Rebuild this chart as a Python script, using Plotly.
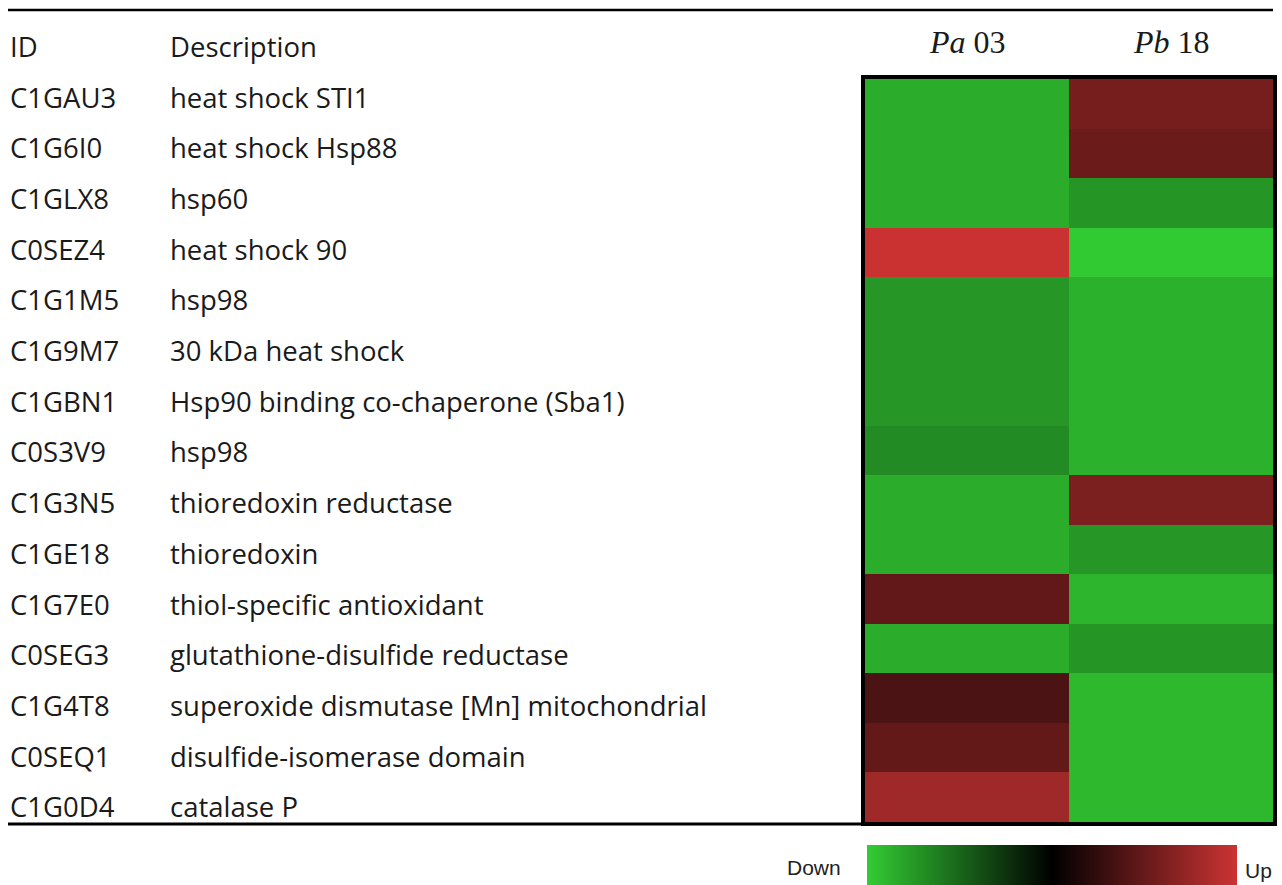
import plotly.graph_objects as go

W, H = 1282, 885

# Table content
ids = ["C1GAU3", "C1G6I0", "C1GLX8", "C0SEZ4", "C1G1M5", "C1G9M7", "C1GBN1",
       "C0S3V9", "C1G3N5", "C1GE18", "C1G7E0", "C0SEG3", "C1G4T8", "C0SEQ1", "C1G0D4"]
descriptions = ["heat shock STI1", "heat shock Hsp88", "hsp60", "heat shock 90", "hsp98",
                "30 kDa heat shock", "Hsp90 binding co-chaperone (Sba1)", "hsp98",
                "thioredoxin reductase", "thioredoxin", "thiol-specific antioxidant",
                "glutathione-disulfide reductase",
                "superoxide dismutase [Mn] mitochondrial", "disulfide-isomerase domain",
                "catalase P"]
strains = ["<i>Pa</i> 03", "<i>Pb</i> 18"]

# Relative expression (-1 = down, +1 = up)
pa03 = [-0.85, -0.85, -0.85, 0.99, -0.74, -0.74, -0.74, -0.68, -0.85, -0.85,
        0.48, -0.85, 0.37, 0.49, 0.78]
pb18 = [0.58, 0.53, -0.73, -0.99, -0.87, -0.87, -0.87, -0.87, 0.61, -0.74,
        -0.89, -0.73, -0.9, -0.9, -0.9]

# Colour-bar tick values
cbar_ticks = [-0.86, -0.42, 0.02, 0.46, 0.9]


def px(x):
    return x / W


def py(y):
    return 1 - y / H


z = [[a, b] for a, b in zip(pa03, pb18)]

colorscale = [[0.0, "#33cc33"], [0.5, "#000000"], [1.0, "#cc3333"]]
ZMIN, ZMAX = -1, 1

# Colour-bar geometry (pixels)
CB_X0, CB_X1, CB_TOP, CB_THICK = 867, 1237, 845, 40

fig = go.Figure()
fig.add_trace(go.Heatmap(
    z=z,
    x=[0, 1],
    y=list(range(len(ids))),
    zmin=ZMIN, zmax=ZMAX,
    colorscale=colorscale,
    hoverinfo="skip",
    colorbar=dict(
        orientation="h",
        x=px(CB_X0), xanchor="left", xpad=0, ypad=0,
        len=(CB_X1 - CB_X0) / W, lenmode="fraction",
        y=py(CB_TOP), yanchor="top",
        thickness=CB_THICK,
        outlinewidth=0,
        ticks="",
        showticklabels=False,
    ),
))

fig.update_xaxes(
    domain=[px(865), px(1273)], range=[-0.5, 1.5],
    showticklabels=False, showgrid=False, zeroline=False,
    showline=True, linecolor="black", linewidth=4, mirror=True, ticks="",
)
fig.update_yaxes(
    domain=[py(822), py(79)], range=[len(ids) - 0.5, -0.5],
    showticklabels=False, showgrid=False, zeroline=False,
    showline=True, linecolor="black", linewidth=4, mirror=True, ticks="",
)

txt_font = dict(family="Open Sans, sans-serif", size=27.5, color="#1a1a1a")
ann = []
ann.append(dict(x=px(8), y=py(46), text="ID", xanchor="left", yanchor="middle", font=txt_font))
ann.append(dict(x=px(168), y=py(46), text="Description", xanchor="left", yanchor="middle", font=txt_font))
for i, (gid, desc) in enumerate(zip(ids, descriptions)):
    yc = py(97 + i * 50.7)
    ann.append(dict(x=px(8), y=yc, text=gid, xanchor="left", yanchor="middle", font=txt_font))
    ann.append(dict(x=px(168), y=yc, text=desc, xanchor="left", yanchor="middle", font=txt_font))

head_font = dict(family="Liberation Serif, Times New Roman, serif", size=32, color="#1a1a1a")
for j, s in enumerate(strains):
    ann.append(dict(x=j, xref="x", y=py(42), text=s, xanchor="center", yanchor="middle",
                    font=head_font))

cb_font = dict(family="Liberation Sans, Arial, sans-serif", size=21, color="#222222")
ann.append(dict(x=px(843), y=py(867), text="Down", xanchor="right", yanchor="middle", font=cb_font))
ann.append(dict(x=px(1243), y=py(870), text="Up", xanchor="left", yanchor="middle", font=cb_font))

for a in ann:
    a.setdefault("xref", "paper")
    a["yref"] = "paper"
    a["showarrow"] = False

shapes = [
    dict(type="line", xref="paper", yref="paper", x0=px(8), x1=px(1273), y0=py(10), y1=py(10),
         line=dict(color="black", width=2.5)),
    dict(type="line", xref="paper", yref="paper", x0=px(8), x1=px(864), y0=py(824), y1=py(824),
         line=dict(color="black", width=3)),
]
# Short white tick marks along the top edge of the colour bar
for v in cbar_ticks:
    tx = CB_X0 + (v - ZMIN) / (ZMAX - ZMIN) * (CB_X1 - CB_X0)
    shapes.append(dict(type="line", xref="paper", yref="paper",
                       x0=px(tx), x1=px(tx), y0=py(CB_TOP), y1=py(CB_TOP + 4),
                       line=dict(color="white", width=1.5)))

fig.update_layout(
    annotations=ann,
    shapes=shapes,
    width=W, height=H,
    margin=dict(l=0, r=0, t=0, b=0),
    paper_bgcolor="white", plot_bgcolor="white",
    showlegend=False,
)

fig.write_html("out.html", config={"displayModeBar": False})
